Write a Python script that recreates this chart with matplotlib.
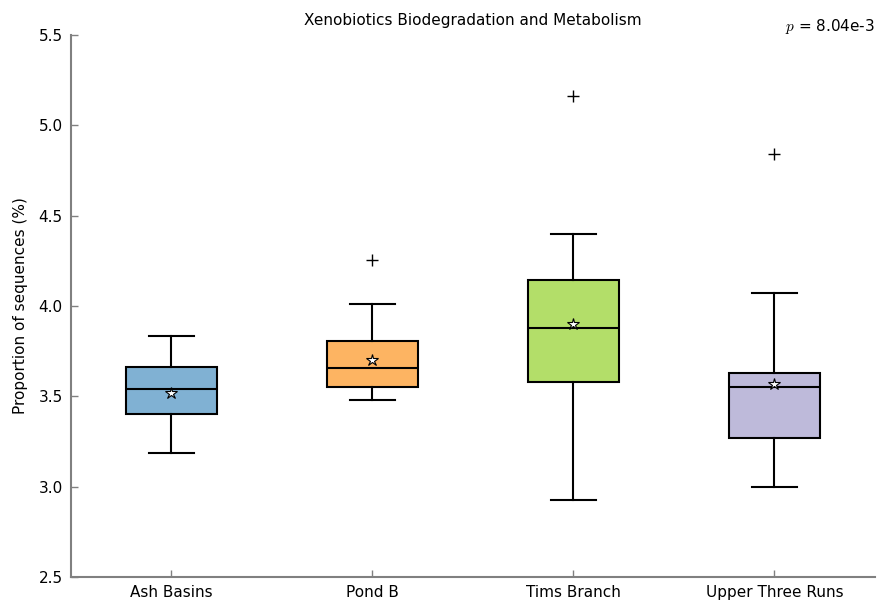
import matplotlib
matplotlib.use("Agg")
import matplotlib.pyplot as plt

categories = ["Ash Basins", "Pond B", "Tims Branch", "Upper Three Runs"]
whislo = [3.189, 3.480, 2.926, 2.998]
q1 = [3.402, 3.552, 3.579, 3.269]
medians = [3.538, 3.657, 3.878, 3.549]
q3 = [3.662, 3.806, 4.144, 3.629]
whishi = [3.834, 4.011, 4.399, 4.072]
means = [3.518, 3.701, 3.900, 3.568]
fliers = [[], [4.255], [5.162], [4.841]]
colors = ["#80b1d3", "#fdb462", "#b3de69", "#bebada"]
title = "Xenobiotics Biodegradation and Metabolism"
p_text = "$p$ = 8.04e-3"
yticks = [2.5, 3.0, 3.5, 4.0, 4.5, 5.0, 5.5]

plt.rcParams['mathtext.fontset'] = 'cm'
fig = plt.figure(figsize=(8.79, 6.02), dpi=100)
ax = fig.add_axes([71/879, 25/602, 804/879, 542/602])

stats = []
for i, c in enumerate(categories):
    stats.append(dict(label=c, whislo=whislo[i], q1=q1[i], med=medians[i],
                      q3=q3[i], whishi=whishi[i], mean=means[i], fliers=fliers[i]))

bp = ax.bxp(stats, positions=range(1, len(categories) + 1), widths=0.45,
            patch_artist=True, showmeans=True,
            boxprops=dict(linewidth=1.5, edgecolor='black'),
            whiskerprops=dict(linewidth=1.5, color='black'),
            capprops=dict(linewidth=1.5, color='black'),
            medianprops=dict(linewidth=1.5, color='black'),
            meanprops=dict(marker='*', markerfacecolor='white',
                           markeredgecolor='black', markersize=9, markeredgewidth=0.8),
            flierprops=dict(marker='+', markeredgecolor='black', markersize=9,
                            markeredgewidth=1.0))
for patch, col in zip(bp['boxes'], colors):
    patch.set_facecolor(col)

ax.set_xlim(0.5, 4.5)
ax.set_ylim(2.5, 5.5)
ax.set_yticks(yticks)
ax.set_yticklabels([f"{v:.1f}" for v in yticks])
ax.set_xticks(range(1, len(categories) + 1))
ax.set_xticklabels(categories)
for s in ['top', 'right']:
    ax.spines[s].set_visible(False)
for s in ['left', 'bottom']:
    ax.spines[s].set_color('#808080')
    ax.spines[s].set_linewidth(1.5)
ax.tick_params(direction='in', color='#808080', length=5, width=1, labelsize=11)
ax.tick_params(axis='x', pad=6)
ax.tick_params(axis='y', pad=6)
ax.set_ylabel("Proportion of sequences (%)", fontsize=11)
ax.yaxis.set_label_coords(-43/804, 0.5)
fig.text(473/879, 1 - 20/602, title, ha='center', va='center', fontsize=11)
fig.text(875/879, 1 - 27/602, p_text, ha='right', va='center', fontsize=11)

fig.savefig("out.png", dpi=100)
